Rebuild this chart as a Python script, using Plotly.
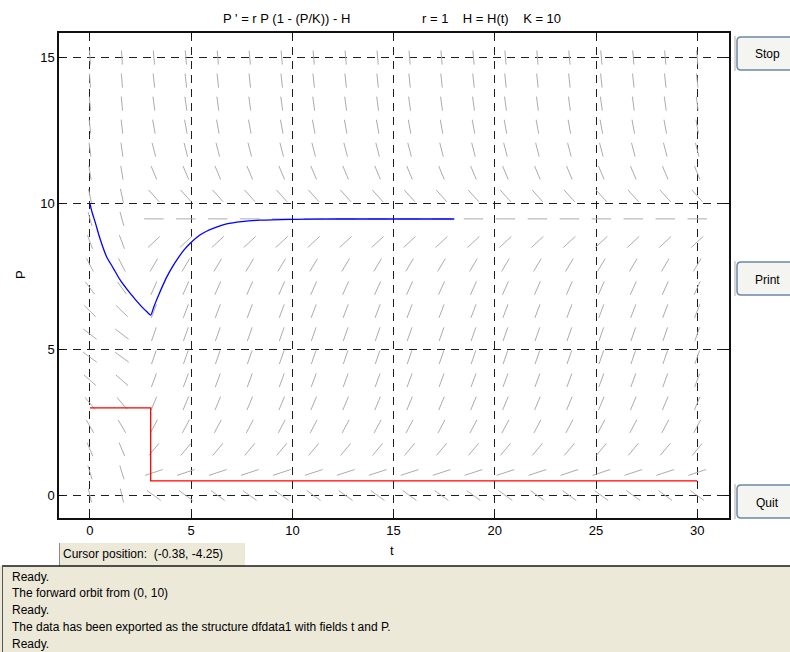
import plotly.graph_objects as go

# ---- model: P' = r P (1 - P/K) - H(t) ----
r = 1
K = 10
H_before = 3
H_after = 0.5
H_switch = 3

# display window
t_range = [-1.53, 31.57]
P_range = [-0.77, 15.84]
t_ticks = [0, 5, 10, 15, 20, 25, 30]
P_ticks = [0, 5, 10, 15]

# direction-field sample points
t_grid = [30 * k / 19 for k in range(20)]
P_grid = [15 * k / 19 for k in range(20)]

# forward orbit from (0, 10)
t_orbit = [0, 0.1, 0.25, 0.49, 0.82, 1.15, 1.48, 1.98, 2.55, 2.8, 3.0,
           3.15, 3.29, 3.55, 3.79, 4.08, 4.36, 4.65, 4.94, 5.43, 5.76,
           6.25, 6.75, 7.5, 8.4, 10, 12, 15, 18]
P_orbit = [10.0, 9.71, 9.38, 8.81, 8.18, 7.79, 7.39, 6.93, 6.47, 6.3, 6.18,
           6.45, 6.70, 7.12, 7.48, 7.84, 8.14, 8.41, 8.63, 8.92, 9.05,
           9.19, 9.30, 9.38, 9.43, 9.46, 9.47, 9.47, 9.47]

# harvesting schedule H(t)
t_H = [0, 3, 3, 30]
H_vals = [3, 3, 0.5, 0.5]

# status messages
messages = [
    "Ready.",
    "The forward orbit from (0, 10)",
    "Ready.",
    "The data has been exported as the structure dfdata1 with fields t and P.",
    "Ready.",
]
cursor_text = "Cursor position:  (-0.38, -4.25)"
buttons = ["Stop", "Print", "Quit"]


def H(t):
    return H_before if t < H_switch else H_after


# slope segments, normalised in axis-fraction units
tw = t_range[1] - t_range[0]
pw = P_range[1] - P_range[0]
seg_len = 0.029
seg_t, seg_P = [], []
for t in t_grid:
    for P in P_grid:
        s = r * P * (1 - P / K) - H(t)
        ux, uy = 1 / tw, s / pw
        n = (ux ** 2 + uy ** 2) ** 0.5
        dt = seg_len / 2 * ux / n * tw
        dP = seg_len / 2 * uy / n * pw
        seg_t += [t - dt, t + dt, None]
        seg_P += [P - dP, P + dP, None]

fig = go.Figure()
fig.add_trace(go.Scatter(x=seg_t, y=seg_P, mode="lines",
                         line=dict(color="#acacac", width=1), hoverinfo="skip"))
fig.add_trace(go.Scatter(x=t_H, y=H_vals, mode="lines",
                         line=dict(color="#ff0000", width=1.3)))
fig.add_trace(go.Scatter(x=t_orbit, y=P_orbit, mode="lines",
                         line=dict(color="#0000ff", width=1.3, shape="spline", smoothing=0.6)))

# plot-area geometry in pixels
L0, T0, WP, HP = 59, 33, 670, 485


def fx(x):
    return (x - L0) / WP


def fy(y):
    return (T0 + HP - y) / HP


def rounded(x0, y0, x1, y1, rad):
    pts = [
        ("M", [(x0 + rad, y0)]),
        ("L", [(x1 - rad, y0)]),
        ("Q", [(x1, y0), (x1, y0 + rad)]),
        ("L", [(x1, y1 - rad)]),
        ("Q", [(x1, y1), (x1 - rad, y1)]),
        ("L", [(x0 + rad, y1)]),
        ("Q", [(x0, y1), (x0, y1 - rad)]),
        ("L", [(x0, y0 + rad)]),
        ("Q", [(x0, y0), (x0 + rad, y0)]),
    ]
    out = ""
    for cmd, pp in pts:
        out += cmd + " " + " ".join(f"{fx(a):.5f},{fy(b):.5f}" for a, b in pp) + " "
    return out + "Z"


shapes = []
annotations = []

# buttons on the right
button_boxes = [(737, 37, 798, 70), (737, 262, 798, 295), (737, 485, 798, 518)]
for label, (x0, y0, x1, y1) in zip(buttons, button_boxes):
    shapes.append(dict(type="line", xref="paper", yref="paper",
                       x0=fx(735), x1=fx(735), y0=fy(y0 - 1), y1=fy(y1 + 1),
                       line=dict(color="#b0b0b0", width=1)))
    shapes.append(dict(type="path", xref="paper", yref="paper",
                       path=rounded(x0, y0, x1, y1, 4),
                       fillcolor="#f4f4f0", line=dict(color="#6f87a6", width=1.5)))
    annotations.append(dict(xref="paper", yref="paper", x=fx(767), y=fy((y0 + y1) / 2 + 1),
                            text=label, showarrow=False, xanchor="center", yanchor="middle",
                            font=dict(family="Liberation Sans, Arial", size=12, color="black")))

# cursor-position box
shapes.append(dict(type="rect", xref="paper", yref="paper",
                   x0=fx(59), x1=fx(245), y0=fy(566), y1=fy(543),
                   fillcolor="#ece9d8", line=dict(width=0)))
shapes.append(dict(type="line", xref="paper", yref="paper",
                   x0=fx(59.5), x1=fx(59.5), y0=fy(566), y1=fy(543),
                   line=dict(color="#8a8a8a", width=1)))
annotations.append(dict(xref="paper", yref="paper", x=fx(61), y=fy(553.5),
                        text=cursor_text, showarrow=False, xanchor="left", yanchor="middle",
                        font=dict(family="Liberation Sans, Arial", size=12, color="black")))

# message panel
shapes.append(dict(type="rect", xref="paper", yref="paper",
                   x0=fx(0), x1=fx(790), y0=fy(652), y1=fy(566),
                   fillcolor="#ece9d8", line=dict(width=0)))
shapes.append(dict(type="line", xref="paper", yref="paper",
                   x0=fx(2), x1=fx(790), y0=fy(566), y1=fy(566),
                   line=dict(color="#1a1a1a", width=1.5)))
shapes.append(dict(type="line", xref="paper", yref="paper",
                   x0=fx(2.5), x1=fx(2.5), y0=fy(566), y1=fy(652),
                   line=dict(color="#555555", width=1)))
for i, msg in enumerate(messages):
    annotations.append(dict(xref="paper", yref="paper", x=fx(10), y=fy(576.7 + 16.7 * i),
                            text=msg, showarrow=False, xanchor="left", yanchor="middle",
                            font=dict(family="Liberation Sans, Arial", size=12, color="black")))

# titles and axis labels
annotations.append(dict(xref="paper", yref="paper", x=fx(286.5), y=fy(18.5),
                        text="P ' = r P (1 - (P/K)) - H", showarrow=False,
                        xanchor="center", yanchor="middle",
                        font=dict(family="Liberation Sans, Arial", size=13, color="black")))
annotations.append(dict(xref="paper", yref="paper", x=fx(491), y=fy(18.5),
                        text="r = 1    H = H(t)    K = 10", showarrow=False,
                        xanchor="center", yanchor="middle",
                        font=dict(family="Liberation Sans, Arial", size=13, color="black")))
annotations.append(dict(xref="paper", yref="paper", x=fx(392), y=fy(550),
                        text="t", showarrow=False, xanchor="center", yanchor="middle",
                        font=dict(family="Liberation Sans, Arial", size=13, color="black")))
annotations.append(dict(xref="paper", yref="paper", x=fx(20), y=fy(275),
                        text="P", showarrow=False, textangle=-90,
                        xanchor="center", yanchor="middle",
                        font=dict(family="Liberation Sans, Arial", size=13, color="black")))

axis_common = dict(
    showgrid=True, gridcolor="#1e1e1e", gridwidth=1, griddash="8px,6px",
    showline=True, linecolor="#111111", linewidth=1.5, mirror="ticks",
    ticks="inside", ticklen=5, tickcolor="#111111", zeroline=False,
    tickfont=dict(family="Liberation Sans, Arial", size=13, color="black"),
)
fig.update_xaxes(range=t_range, tickvals=t_ticks, **axis_common)
fig.update_yaxes(range=P_range, tickvals=P_ticks, **axis_common)

fig.update_layout(
    width=790, height=652,
    margin=dict(l=L0, r=790 - L0 - WP, t=T0, b=652 - T0 - HP),
    plot_bgcolor="white", paper_bgcolor="white",
    showlegend=False, shapes=shapes, annotations=annotations,
)

fig.write_html("out.html")
